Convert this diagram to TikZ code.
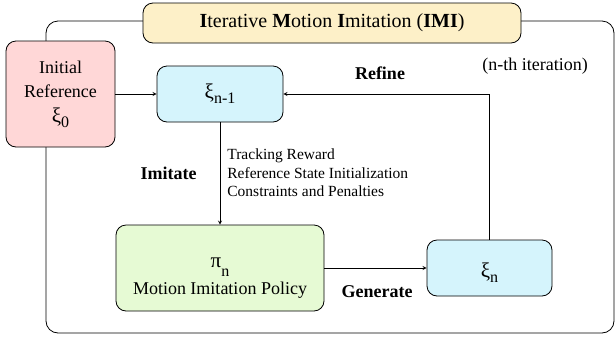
\documentclass[tikz,border=0pt]{standalone}
\usepackage{fontspec}
\setmainfont{Liberation Serif}
\definecolor{rosa}{RGB}{255,215,215}
\definecolor{giallo}{RGB}{253,240,200}
\definecolor{ciano}{RGB}{213,244,252}
\definecolor{verde}{RGB}{230,250,212}
\newcommand{\gr}[1]{{\fontsize{21}{21}\selectfont #1}}
\newcommand{\lowsub}[1]{\raisebox{-5pt}{\fontsize{16}{16}\selectfont #1}}
\begin{document}
\begin{tikzpicture}[x=1pt,y=-1pt,>=stealth,line width=0.8pt,
        box/.style={draw,rounded corners=10pt,align=center,inner sep=0pt,
            font=\fontsize{18}{24.5}\selectfont},
        lbl/.style={inner sep=0pt,font=\fontsize{18}{21}\selectfont\bfseries}]
        \useasboundingbox (0,0) rectangle (616,341);

        %%%%%%%%% Cornice %%%%%%%%%
        \draw[rounded corners=12pt] (46,21) rectangle (614,333);

        %%%%%%%%%% Nodi %%%%%%%%%%
        \node[box,fill=giallo,minimum width=378pt,minimum height=40pt,
            font=\fontsize{20}{24}\selectfont] (titolo) at (332,23)
            {\textbf{I}terative \textbf{M}otion \textbf{I}mitation (\textbf{IMI})};
        \node[box,fill=rosa,minimum width=109pt,minimum height=106pt] (init) at (60.5,94)
            {Initial\\Reference\\\gr{ξ}\lowsub{0}};
        \node[box,fill=ciano,minimum width=126pt,minimum height=56pt] (prev) at (220,94)
            {\gr{ξ}\lowsub{n-1}};
        \node[box,fill=verde,minimum width=208pt,minimum height=86pt] (policy) at (220,268)
            {\rule{0pt}{30pt}\gr{π}\raisebox{-9pt}{\fontsize{16}{16}\selectfont n}\\[3pt]Motion Imitation Policy};
        \node[box,fill=ciano,minimum width=125pt,minimum height=56pt] (next) at (489.5,268)
            {\rule{0pt}{24pt}\gr{ξ}\lowsub{n}};

        %%%%%%%% Etichette %%%%%%%%
        \node[lbl] (refine) at (380,73) {Refine};
        \node[lbl,font=\fontsize{18}{21}\selectfont] (iter) at (535,66) {(n-th iteration)};
        \node[lbl,anchor=east] (imitate) at (197,173) {Imitate};
        \node[inner sep=0pt,anchor=west,align=left,font=\fontsize{15.5}{18.5}\selectfont]
            (cues) at (227,173) {Tracking Reward\\Reference State Initialization\\Constraints and Penalties};
        \node[lbl] (generate) at (377,292) {Generate};

        %%%%%%%%% Frecce %%%%%%%%%
        \draw[->] (init) -- (prev);
        \draw[->] (prev) -- (policy);
        \draw[->] (policy) -- (next);
        \draw[->] (next) |- (prev);
    \end{tikzpicture}
\end{document}
